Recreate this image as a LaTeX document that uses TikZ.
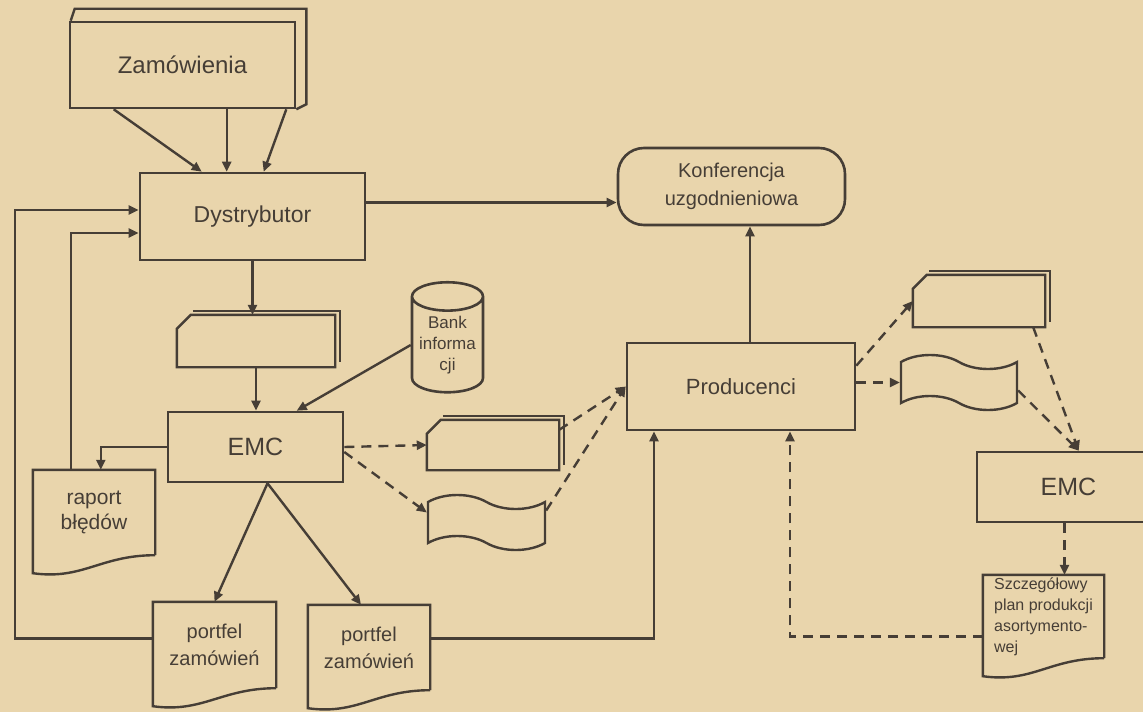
\documentclass[tikz,border=0pt]{standalone}
\usepackage{fontspec}
\setmainfont{Liberation Sans}
\usetikzlibrary{arrows.meta,positioning,calc,shapes.geometric,shapes.symbols}
\definecolor{paper}{RGB}{233,213,172}
\definecolor{ink}{RGB}{70,62,54}

\begin{document}
\begin{tikzpicture}[x=1pt,y=-1pt,
   box/.style={rectangle,draw=ink,line width=2.6pt,inner sep=0pt,text=ink,align=center},
   sheet/.style={rectangle,inner sep=0pt,text=ink,align=center},
   tapebox/.style={tape,draw=ink,line width=2.4pt,tape bend top=out and in,tape bend bottom=out and in,
                   tape bend height=14pt,inner sep=0pt},
   wire/.style={draw=ink,line width=2.4pt,-{Triangle[length=10pt,width=9pt]}},
   dwire/.style={wire,dash pattern=on 10pt off 7pt}]
   \path[use as bounding box,fill=paper] (0,0) rectangle (1143,712);
   \clip (0,0) rectangle (1143,712);

   % left part
   \node[box,minimum width=225pt,minimum height=86pt,font=\fontsize{24}{28}\selectfont] (zam) at (182.5,65) {Zamówienia};
   \node[box,minimum width=225pt,minimum height=87pt,font=\fontsize{23}{27}\selectfont] (dys) at (252.5,216.5) {Dystrybutor};
   \node[sheet,minimum width=158pt,minimum height=52pt] (card1) at (256,341) {};
   \node[box,cylinder,shape border rotate=90,aspect=0.5,minimum width=71pt,minimum height=110pt,
         font=\fontsize{17}{21}\selectfont] (bank) at (447.5,345) {Bank\\informa\\cji};
   \node[box,minimum width=175pt,minimum height=70pt,font=\fontsize{25}{30}\selectfont] (emcA) at (255.5,447) {EMC};
   \node[sheet,minimum width=122pt,minimum height=85pt,font=\fontsize{21}{25}\selectfont] (raport) at (94,512.5) {raport\\błędów};
   \node[sheet,minimum width=123pt,minimum height=86pt,font=\fontsize{20}{27}\selectfont] (portA) at (214.5,645) {portfel\\zamówień};
   \node[sheet,minimum width=122pt,minimum height=85pt,font=\fontsize{20}{27}\selectfont] (portB) at (369,647.5) {portfel\\zamówień};
   \node[sheet,minimum width=132pt,minimum height=50pt] (card2) at (493,445) {};
   \node[tapebox,minimum width=117pt,minimum height=55pt] (tape2) at (486.5,522.5) {};

   % right part
   \node[box,rounded corners=26pt,minimum width=227pt,minimum height=77pt,font=\fontsize{20}{28}\selectfont] (konf) at (731.5,186.5) {Konferencja\\uzgodnieniowa};
   \node[box,minimum width=228pt,minimum height=87pt,font=\fontsize{22}{26}\selectfont] (prod) at (741,386.5) {Producenci};
   \node[sheet,minimum width=132pt,minimum height=52pt] (card3) at (979,301) {};
   \node[tapebox,minimum width=116pt,minimum height=55pt] (tape3) at (959,382.5) {};
   \node[box,minimum width=183pt,minimum height=70pt,font=\fontsize{25}{30}\selectfont] (emcB) at (1068.5,487) {EMC};
   \node[sheet,minimum width=121pt,minimum height=83pt,align=left,font=\fontsize{16}{21}\selectfont] (plan) at (1043.5,616.5) {Szczegółowy\\plan produkcji\\asortymento-\\wej};

   \coordinate (fbA) at (15,210);
   \coordinate (fbB) at (71,233);

   % outlines of the documents and cards
   \draw[ink,line width=2.4pt] ($(zam.north west)+(2,0)$) -- ($(zam.north west)+(6,-12)$) -- ($(zam.north east)+(10,-12)$) -- ($(zam.south east)+(10,-5)$) -- (zam.south east);
   \foreach \d in {raport,portA,portB,plan}
      \draw[ink,line width=2.4pt] (\d.south east) -- (\d.north east) -- (\d.north west) -- ($(\d.south west)+(0,18)$)
         .. controls ($(\d.south west)+(50,25)$) and ($(\d.south east)+(-55,0)$) .. (\d.south east);
   \foreach \c in {card1,card2,card3} {
      \draw[ink,line width=2.4pt] ($(\c.north west)+(14,0)$) -- (\c.north east) -- (\c.south east) -- (\c.south west) -- ($(\c.north west)+(0,14)$) -- cycle;
      \draw[ink,line width=1.6pt] ($(\c.north west)+(16,-4)$) -- ($(\c.north east)+(5,-4)$) -- ($(\c.south east)+(5,-5)$);
   }

   % solid connectors
   \draw[wire] ($(zam.south west)+(45,0)$) -- ($(dys.north west)+(63,0)$);
   \draw[wire] ($(zam.south west)+(158,0)$) -- ($(dys.north west)+(88,0)$);
   \draw[wire] ($(zam.south east)+(-10,0)$) -- ($(dys.north west)+(125,0)$);
   \draw[wire] ([yshift=14pt]dys.east) -- ([yshift=14pt]dys.east -| konf.west);
   \draw[wire] (dys.south) -- (dys.south |- card1.north);
   \draw[wire] (card1.south) -- (card1.south |- emcA.north);
   \draw[wire] (bank.west) -- ($(emcA.north west)+(130,0)$);
   \draw[wire] (emcA.west) -| ($(raport.north west)+(68,0)$);
   \draw[wire] ([xshift=12pt]emcA.south) -- (portA.north);
   \draw[wire] ([xshift=12pt]emcA.south) -- ([xshift=-8pt]portB.north);
   \draw[wire] ([yshift=6.5pt]portA.west) -| (fbA) -- (fbA -| dys.west);
   \draw[wire] ($(raport.north west)+(38,0)$) |- (fbB -| dys.west);
   \draw[wire] ([xshift=9pt]prod.north) -- ([xshift=9pt]prod.north |- konf.south);
   \draw[wire] ([yshift=9pt]portB.east) -| ([xshift=-87pt]prod.south);

   % dashed connectors
   \draw[dwire] (emcA.east) -- (card2.west);
   \draw[dwire] ([yshift=-5pt]emcA.east) -- ([yshift=10pt]tape2.west);
   \draw[dwire] ([yshift=-10pt]card2.north east) -- (prod.west);
   \draw[dwire] ([yshift=12pt]tape2.east) -- (prod.west);
   \draw[dwire] ([yshift=-24pt]prod.north east) -- (card3.west);
   \draw[dwire] (prod.east |- tape3.west) -- (tape3.west);
   \draw[dwire] ([xshift=-12pt]card3.south east) -- ($(emcB.north west)+(103,0)$);
   \draw[dwire] ([yshift=-8pt]tape3.east) -- ($(emcB.north west)+(103,0)$);
   \draw[dwire] ([xshift=-4pt]emcB.south) -- ([xshift=-4pt]emcB.south |- plan.north);
   \draw[dwire] ([yshift=-20pt]plan.west) -| ([xshift=49pt]prod.south);
\end{tikzpicture}
\end{document}
